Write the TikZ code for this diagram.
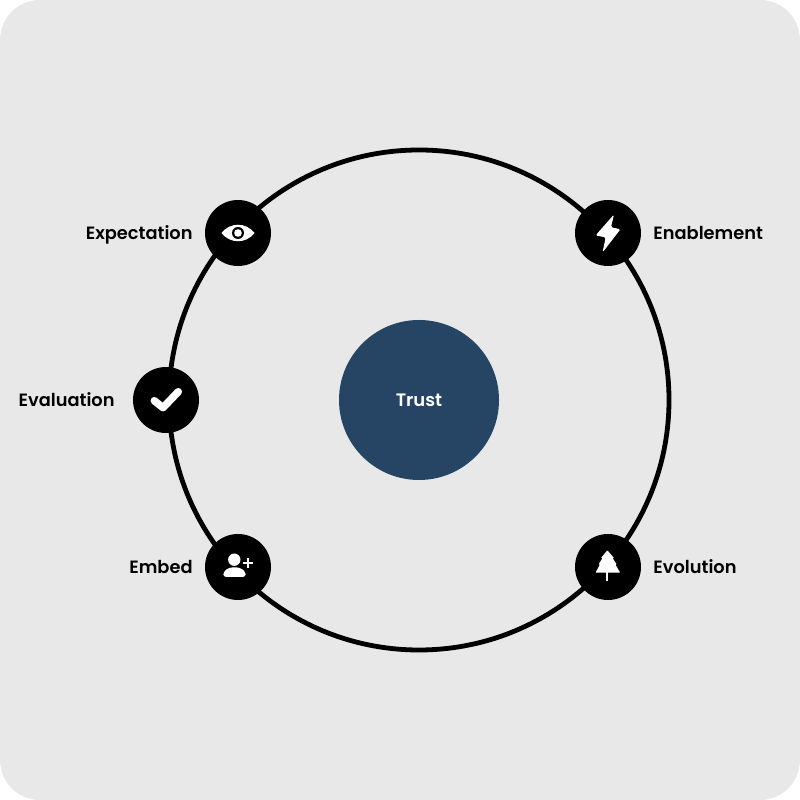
\documentclass[tikz,border=0pt]{standalone}
\usepackage{fontspec}
\setmainfont{Poppins}[BoldFont={Poppins SemiBold}]
\usepackage{xcolor}
\usetikzlibrary{positioning}
\definecolor{panelgray}{RGB}{232,232,232}
\definecolor{trustblue}{RGB}{38,68,100}

\begin{document}
\begin{tikzpicture}[
    x=1pt, y=1pt,
    hub/.style={circle, fill=black, minimum size=66pt, inner sep=0pt},
    core/.style={circle, fill=trustblue, minimum size=160pt, inner sep=0pt,
      text=white, font=\fontsize{18}{22}\selectfont\bfseries},
    ring/.style={circle, draw=black, line width=4.8pt, minimum size=500pt, inner sep=0pt},
    tag/.style={font=\fontsize{17.8}{22}\selectfont\bfseries, text=black, inner sep=0pt,
      text height=13pt, text depth=0pt},
    glyph/.style={fill=white, draw=none}
  ]
    \useasboundingbox (0,0) rectangle (800,800);
    \fill[white] (0,0) rectangle (800,800);
    \fill[panelgray, rounded corners=40pt] (0,0) rectangle (800,800);

    \node[ring] (loop) at (419,400) {};
    \node[core] (trust) at (419,400) {Trust};

    \node[hub] (expect) at (238,567) {};
    \node[hub] (enable) at (608,567) {};
    \node[hub] (eval) at (166,400) {};
    \node[hub] (embed) at (238,233) {};
    \node[hub] (evolve) at (608,233) {};

    \node[tag, left=12pt of expect] {Expectation};
    \node[tag, right=12pt of enable] {Enablement};
    \node[tag, left=18pt of eval] {Evaluation};
    \node[tag, left=12pt of embed] {Embed};
    \node[tag, right=12pt of evolve] {Evolution};

    % eye
    \begin{scope}[shift={(expect.center)}]
      \fill[glyph] (-16.5,0) .. controls (-8,11) and (8,11) .. (16.5,0)
        .. controls (8,-11) and (-8,-11) .. (-16.5,0) -- cycle;
      \fill[black] (0,0) circle (6pt);
      \fill[glyph] (0,0) circle (3.8pt);
    \end{scope}

    % bolt
    \begin{scope}[shift={(enable.center)}]
      \fill[glyph, rounded corners=1.5pt] (6,18.5) -- (-12.5,-2.5) -- (-2.3,-4.3)
        -- (-5.5,-19.5) -- (12.5,3.8) -- (3,5.7) -- cycle;
    \end{scope}

    % check mark
    \begin{scope}[shift={(eval.center)}]
      \draw[white, line width=7.5pt, line cap=round, line join=round]
        (-11.7,-0.7) -- (-3,-7.7) -- (12.3,8.3);
    \end{scope}

    % person with a plus
    \begin{scope}[shift={(embed.center)}]
      \fill[glyph] (-3.7,7.3) circle (6.2pt);
      \fill[glyph, rounded corners=3pt] (-14.7,-10) -- (-14.7,-5) -- (-9,-0.5)
        -- (2,-0.5) -- (7.7,-5) -- (7.7,-10) -- cycle;
      \draw[white, line width=2pt] (4.5,3.5) -- (14.5,3.5) (9.5,-1.5) -- (9.5,8.5);
    \end{scope}

    % fir tree
    \begin{scope}[shift={(evolve.center)}]
      \fill[glyph, rounded corners=0.6pt] (-0.7,16.7) -- (6,9) -- (4.5,9) -- (8.8,2.5) -- (7.3,2.5)
        -- (12.2,-5.7) -- (-12.5,-5.7) -- (-8,2.5) -- (-9.5,2.5) -- (-5.5,9) -- (-7,9) -- cycle;
      \draw[white, line width=2pt] (-0.7,-5) -- (-0.7,-14);
    \end{scope}
  \end{tikzpicture}
\end{document}
